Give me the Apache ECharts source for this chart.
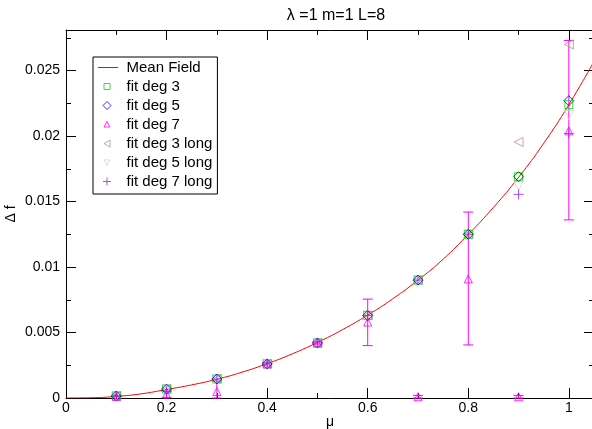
<!DOCTYPE html>
<html><head><meta charset="utf-8">
<script src="https://cdn.jsdelivr.net/npm/echarts@6/dist/echarts.min.js"></script>
<style>html,body{margin:0;padding:0;background:#fff}#c{width:592px;height:429px}</style>
</head><body><div id="c"></div>
<script>
const titleText = 'λ =1 m=1 L=8';
const xLabel = 'μ';
const yLabel = 'Δ f';
const mfX = [0,0.05,0.1,0.15,0.2,0.25,0.3,0.35,0.4,0.45,0.5,0.55,0.6,0.65,0.7,0.75,0.8,0.85,0.9,0.95,1.0,1.05];
const mfY = [0,0.00002,0.00012,0.00032,0.00065,0.00100,0.00143,0.00197,0.00262,0.00337,0.00424,0.00522,0.00633,0.00758,0.00900,0.01060,0.01250,0.01455,0.01685,0.01945,0.02240,0.02570];
const xVals = [0.1,0.2,0.3,0.4,0.5,0.6,0.7,0.8,0.9,1.0];
const deg3 = [0.00015,0.00068,0.00145,0.0026,0.0042,0.0063,0.0090,0.0125,0.0169,0.0224];
const deg5 = [0.00015,0.00068,0.00145,0.0026,0.0042,0.0063,0.0090,0.0125,0.0169,0.0227];
const deg7 = [0.00012,0.0003,0.0005,0.0026,0.0042,0.0058,0.0001,0.0091,0.0001,0.0204];
const deg7Lo = [0.0001,0.00005,0.0,0.0025,0.0041,0.0040,0.0,0.00405,0.0,0.0136];
const deg7Hi = [0.0002,0.0006,0.0013,0.0027,0.0043,0.00755,0.0002,0.0142,0.0002,0.0273];
const deg3long = [0.00015,0.00068,0.00145,0.0026,0.0042,0.0063,0.0090,0.0125,0.01955,0.0270];
const deg5long = [0.00015,0.00068,0.00145,0.0026,0.0042,0.0063,0.0090,0.0125,0.0162,0.0216];
const deg7long = [0.00015,0.0005,0.00145,0.0026,0.0042,0.0063,0.0090,0.0125,0.01555,0.0202];
const names = ['Mean Field','fit deg 3','fit deg 5','fit deg 7','fit deg 3 long','fit deg 5 long','fit deg 7 long'];

const FONT = 'Liberation Sans, Arial, sans-serif';
const pairs = (xs, ys) => xs.map((x,i)=>[x, ys[i]]);
const plusPath = 'path://M5,0 L5,10 M0,5 L10,5';
const colors = ['#ff0000','#00e000','#0000ff','#ff00ff','#bc8f8f','#d3d3d3','#a020f0'];
const A = 'M0,0 L0.01,0 M20,10 L19.99,10 ';
const legendIcons = [
  'path://' + A,
  'path://' + A + 'M5.5,2 L11.5,2 L11.5,8 L5.5,8 Z',
  'path://' + A + 'M8.5,1 L12.5,5 L8.5,9 L4.5,5 Z',
  'path://' + A + 'M8.5,2 L11.5,7.5 L5.5,7.5 Z',
  'path://' + A + 'M5.5,5 L11.5,1.5 L11.5,8.5 Z',
  'path://' + A + 'M5.5,2.5 L11.5,2.5 L8.5,8 Z',
  'path://' + A + 'M8.5,1 L8.5,9 M4.5,5 L12.5,5'
];
function sc(name, data, symbol, color, size, rot, z){
  return {type:'scatter', name, data, symbol, symbolSize:size, symbolRotate:rot||0, z:z,
    itemStyle:{color:'rgba(0,0,0,0)', borderColor:color, borderWidth:1}, animation:false};
}
const chart = echarts.init(document.getElementById('c'), null, {renderer:'canvas'});
const axisCommon = {
  axisLine:{show:true, onZero:false, lineStyle:{color:'#000', width:1}},
  axisTick:{show:true, inside:true, length:10, lineStyle:{color:'#000'}},
  minorTick:{show:true, splitNumber:2, length:5, lineStyle:{color:'#000'}},
  splitLine:{show:false}
};
const fmtX = v => { const r = Math.round(v/0.2)*0.2; return Math.abs(r-v)<1e-9 ? String(+r.toFixed(1)) : ''; };
const fmtY = v => { const r = Math.round(v/0.005)*0.005; return Math.abs(r-v)<1e-9 ? String(+r.toFixed(3)) : ''; };
chart.setOption({
  animation:false,
  backgroundColor:'#fff',
  title:{text:titleText, left:331, top:3, textAlign:'center', textStyle:{fontFamily:FONT, fontSize:16, fontWeight:'normal', color:'#000'}},
  grid:{left:66, top:30, width:528, height:368, containLabel:false, outerBoundsMode:'none'},
  legend:{
    orient:'vertical', left:93, top:57, itemGap:4, itemWidth:20, itemHeight:10,
    padding:[3,5,5,5], borderColor:'#000', borderWidth:1, backgroundColor:'#fff',
    textStyle:{fontFamily:FONT, fontSize:15, color:'#000', padding:[0,0,0,3]},
    data: names.map((n,i)=>({name:n, icon:legendIcons[i],
      itemStyle:{color:'rgba(0,0,0,0)', borderColor:(i===0?'rgba(0,0,0,0)':colors[i]), borderWidth:1}}))
  },
  // red line swatch for the Mean Field legend entry
  graphic:[{type:'line', z:100, zlevel:0, shape:{x1:98, y1:67.5, x2:118, y2:67.5}, style:{stroke:colors[0], lineWidth:1}}],
  xAxis:[
    Object.assign({type:'value', min:0, max:1.05, interval:0.2, position:'bottom',
      name:xLabel, nameLocation:'middle', nameGap:17, nameMoveOverlap:false,
      nameTextStyle:{fontFamily:FONT, fontSize:14, color:'#000'},
      axisLabel:{formatter:fmtX, fontFamily:FONT, fontSize:14, color:'#000', margin:3, showMaxLabel:false}}, axisCommon),
    Object.assign({type:'value', min:0, max:1.05, interval:0.2, position:'top', axisLabel:{show:false}}, axisCommon)
  ],
  yAxis:[
    Object.assign({type:'value', min:0, max:0.0281, interval:0.005, position:'left',
      name:yLabel, nameLocation:'middle', nameGap:48, nameRotate:90, nameMoveOverlap:false,
      nameTextStyle:{fontFamily:FONT, fontSize:14, color:'#000'},
      axisLabel:{formatter:fmtY, fontFamily:FONT, fontSize:14, color:'#000', margin:6, showMaxLabel:false}}, axisCommon),
    Object.assign({type:'value', min:0, max:0.0281, interval:0.005, position:'right', axisLabel:{show:false}}, axisCommon)
  ],
  series:[
    {type:'line', name:names[0], data:pairs(mfX, mfY), smooth:true, symbol:'none', showSymbol:false,
      lineStyle:{color:colors[0], width:1}, itemStyle:{color:colors[0]}, z:2},
    sc(names[1], pairs(xVals, deg3), 'rect', colors[1], 8, null, 6),
    sc(names[2], pairs(xVals, deg5), 'diamond', colors[2], 10, null, 7),
    sc(names[3], pairs(xVals, deg7), 'triangle', colors[3], 8, null, 8),
    sc(names[4], pairs(xVals, deg3long), 'triangle', colors[4], 9, 90, 4),
    sc(names[5], pairs(xVals, deg5long), 'triangle', colors[5], 9, 180, 3),
    sc(names[6], pairs(xVals, deg7long), plusPath, colors[6], 10, null, 5),
    {type:'custom', name:'deg7err', z:2,
      data: xVals.map((x,i)=>[x, deg7Lo[i], deg7Hi[i]]),
      renderItem:function(params, api){
        const lo = api.coord([api.value(0), api.value(1)]);
        const hi = api.coord([api.value(0), api.value(2)]);
        const w = 5;
        const st = {stroke:'#ff00ff', lineWidth:1};
        return {type:'group', children:[
          {type:'line', shape:{x1:lo[0], y1:lo[1], x2:hi[0], y2:hi[1]}, style:st},
          {type:'line', shape:{x1:lo[0]-w, y1:lo[1], x2:lo[0]+w, y2:lo[1]}, style:st},
          {type:'line', shape:{x1:hi[0]-w, y1:hi[1], x2:hi[0]+w, y2:hi[1]}, style:st}
        ]};
      }}
  ]
});
</script></body></html>
